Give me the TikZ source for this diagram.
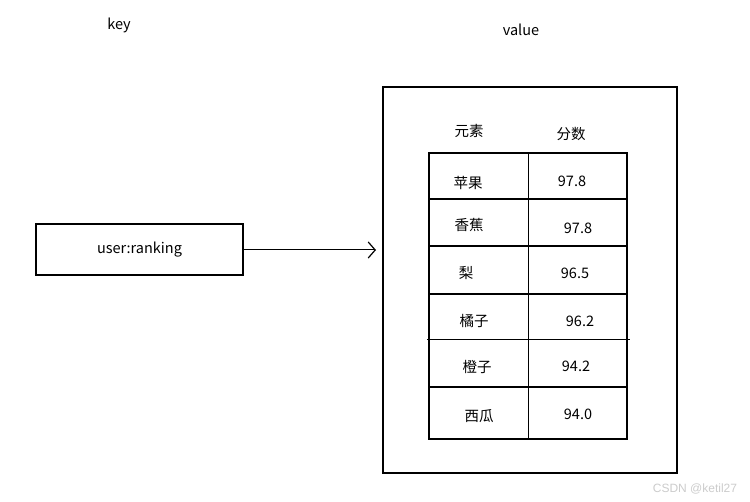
\documentclass[tikz,border=0pt]{standalone}
\usepackage{fontspec}
\setmainfont{Noto Sans CJK SC}
\usetikzlibrary{arrows.meta}
\begin{document}
\begin{tikzpicture}[x=1pt,y=-1pt,
  lbl/.style={font=\fontsize{14.5}{16}\selectfont, inner sep=0pt},
  thick2/.style={line width=2pt},
  thin1/.style={line width=1pt}]
\useasboundingbox[fill=white] (0,0) rectangle (750,502);
\node[lbl] (keyt) at (119,25) {key};
\node[lbl] (valt) at (521,30) {value};
\node[draw, line width=2pt, minimum width=207pt, minimum height=51pt, lbl] (key) at (139.5,250) {user:ranking};
\node[draw, line width=1.2pt, minimum width=294pt, minimum height=386pt, inner sep=0pt] (outer) at (530,280) {};
\coordinate (tip) at (376,249);
\draw[thin1, -{Straight Barb[length=7pt,width=16pt,line width=1.2pt]}] (key.east) -- (key.east -| tip);
% table
\draw[thick2] (429,153) rectangle (627,439);
\foreach \y in {199.5,246,294,387} \draw[thick2] (429,\y) -- (627,\y);
\draw[thin1] (427,340) -- (630,340);
\draw[thin1] (528.5,153) -- (528.5,439);
\node[lbl] (h1) at (469,131) {元素};
\node[lbl] (h2) at (571,134) {分数};
\node[lbl] (a1) at (468,183) {苹果};
\node[lbl] (b1) at (572,181) {97.8};
\node[lbl] (a2) at (469,225) {香蕉};
\node[lbl] (b2) at (578,228) {97.8};
\node[lbl] (a3) at (466,273) {梨};
\node[lbl] (b3) at (575,273) {96.5};
\node[lbl] (a4) at (474,321) {橘子};
\node[lbl] (b4) at (580,321) {96.2};
\node[lbl] (a5) at (477,367) {橙子};
\node[lbl] (b5) at (576,366) {94.2};
\node[lbl] (a6) at (479,416) {西瓜};
\node[lbl] (b6) at (578,414) {94.0};
\node[inner sep=0pt, text=black!20, font=\fontspec{Liberation Sans}\fontsize{12}{14}\selectfont] (wm) at (695,489) {CSDN @ketil27};
\end{tikzpicture}
\end{document}
